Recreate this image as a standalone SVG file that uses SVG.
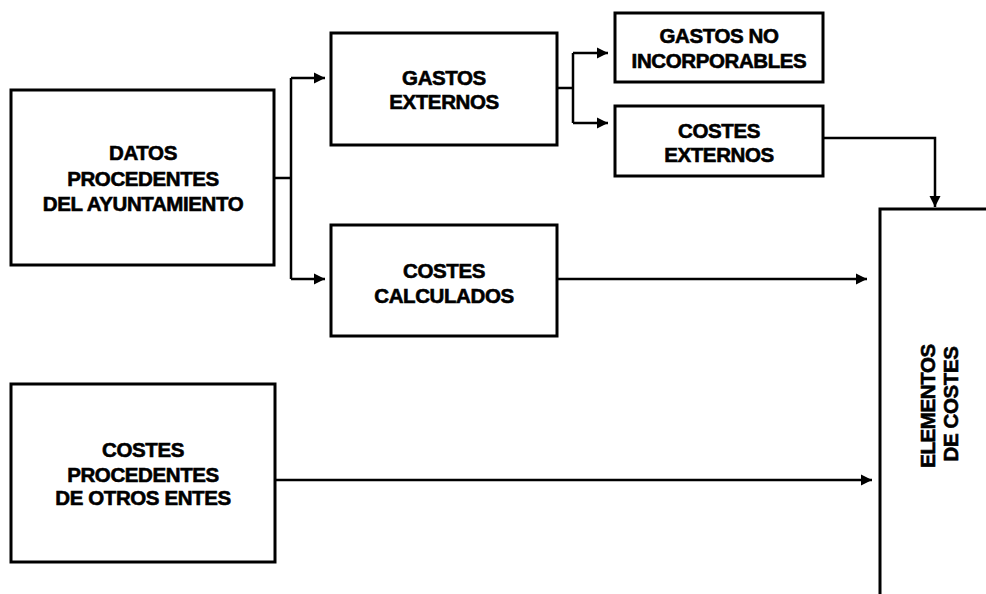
<svg xmlns="http://www.w3.org/2000/svg" width="986" height="594" viewBox="0 0 986 594">
<style>
.box{fill:#fff;stroke:#000;stroke-width:3}
.ln{fill:none;stroke:#000;stroke-width:2.5}
.t{font-family:"Liberation Sans",Arial,sans-serif;font-weight:bold;font-size:20.5px;letter-spacing:-0.4px;fill:#000;stroke:#000;stroke-width:0.6;text-anchor:middle}
</style>
<defs>
<marker id="ah" viewBox="0 0 10 10" refX="10" refY="5" markerWidth="11" markerHeight="12" markerUnits="userSpaceOnUse" orient="auto">
<path d="M0,0 L10,5 L0,10 Z" fill="#000"/>
</marker>
</defs>
<rect width="986" height="594" fill="#fff"/>
<g id="connectors">
<path class="ln" d="M274,178 H291 M291,78 V279"/>
<path class="ln" d="M291,78 H325" marker-end="url(#ah)"/>
<path class="ln" d="M291,279 H325" marker-end="url(#ah)"/>
<path class="ln" d="M557,88 H573 M573,53 V123"/>
<path class="ln" d="M573,53 H608" marker-end="url(#ah)"/>
<path class="ln" d="M573,123 H608" marker-end="url(#ah)"/>
<path class="ln" d="M823,138 H935 V207" marker-end="url(#ah)"/>
<path class="ln" d="M557,279 H867" marker-end="url(#ah)"/>
<path class="ln" d="M275,480 H872" marker-end="url(#ah)"/>
</g>
<g id="datos">
<rect class="box" x="11" y="90" width="263" height="175"/>
<text class="t" x="143" y="160">DATOS</text>
<text class="t" x="143" y="186">PROCEDENTES</text>
<text class="t" x="143" y="211">DEL AYUNTAMIENTO</text>
</g>
<g id="gastos-externos">
<rect class="box" x="331" y="33" width="226" height="112"/>
<text class="t" x="444" y="85">GASTOS</text>
<text class="t" x="444" y="109">EXTERNOS</text>
</g>
<g id="gastos-no">
<rect class="box" x="615" y="13" width="208" height="69"/>
<text class="t" x="719" y="43">GASTOS NO</text>
<text class="t" x="719" y="68">INCORPORABLES</text>
</g>
<g id="costes-externos">
<rect class="box" x="615" y="106" width="208" height="70"/>
<text class="t" x="719" y="138">COSTES</text>
<text class="t" x="719" y="162">EXTERNOS</text>
</g>
<g id="costes-calculados">
<rect class="box" x="331" y="225" width="226" height="111"/>
<text class="t" x="444" y="278">COSTES</text>
<text class="t" x="444" y="303">CALCULADOS</text>
</g>
<g id="costes-otros">
<rect class="box" x="11" y="384" width="264" height="178"/>
<text class="t" x="143" y="457">COSTES</text>
<text class="t" x="143" y="482">PROCEDENTES</text>
<text class="t" x="143" y="505">DE OTROS ENTES</text>
</g>
<g id="elementos">
<path d="M986,209 H880 V594" fill="none" stroke="#000" stroke-width="3"/>
<text class="t" transform="translate(935,406) rotate(-90)">ELEMENTOS</text>
<text class="t" transform="translate(958,404) rotate(-90)">DE COSTES</text>
</g>
</svg>
